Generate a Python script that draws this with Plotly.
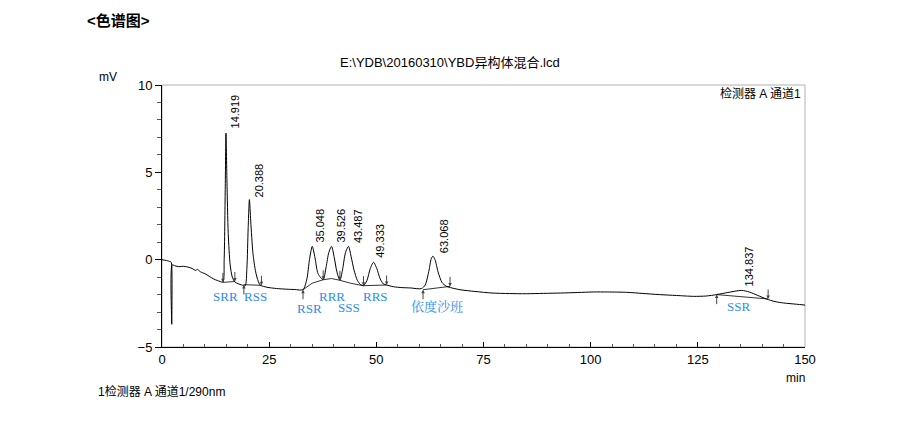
import plotly.graph_objects as go

# ---- data ----
time_min = [0.0, 1.0, 2.0, 2.2, 2.28, 2.36, 3.0, 4.0, 5.0, 6.0, 7.0, 7.9, 8.2, 9.0, 10.0, 11.0, 12.0, 13.0,
            14.2, 14.5, 14.75, 14.92, 15.15, 15.45, 15.9, 16.4, 17.0,
            17.8, 18.6, 19.4, 19.8, 20.1, 20.39, 20.7, 21.2, 21.7, 22.2, 22.9,
            24.5, 26.7, 29.0, 31.0, 32.9,
            33.8, 34.4, 35.05, 35.7, 36.4, 37.6,
            38.3, 38.9, 39.55, 40.2, 40.8, 41.5,
            42.1, 42.8, 43.5, 44.1, 44.8, 45.6, 46.3, 47.0,
            47.8, 48.6, 49.35, 50.1, 50.9, 51.6, 52.4,
            54.0, 56.0, 58.0, 60.5, 61.4, 62.3, 62.8, 63.2, 63.7, 64.4, 65.3, 66.3, 67.3,
            69.5, 73.0, 77.0, 81.0, 85.0, 89.0, 93.0, 97.0, 100.6, 104.0, 108.4, 112.0, 116.0,
            120.0, 124.0, 127.0, 129.4, 132.0, 135.2, 137.0, 139.0, 141.0, 143.0, 145.0, 148.0, 150.0]
signal_mv = [0.0, -0.05, -0.12, -0.18, -3.7, -0.3, -0.35, -0.4, -0.38, -0.42, -0.5, -0.62, -0.55, -0.7, -0.8, -0.95, -1.1, -1.2,
             -1.28, 0.0, 4.0, 7.25, 4.5, 1.5, -0.3, -1.0, -1.28,
             -1.38, -1.45, -1.5, -0.5, 1.8, 3.44, 2.2, 0.4, -0.5, -1.05, -1.45,
             -1.58, -1.65, -1.69, -1.71, -1.72,
             -1.1, 0.0, 0.76, 0.1, -0.8, -1.15,
             -0.4, 0.4, 0.76, 0.1, -0.7, -1.18,
             -0.6, 0.4, 0.76, 0.2, -0.6, -1.2, -1.42, -1.49,
             -1.2, -0.5, -0.15, -0.5, -1.1, -1.38, -1.45,
             -1.55, -1.6, -1.62, -1.66, -1.45, -0.6, 0.05, 0.2, 0.0, -0.7, -1.3, -1.52, -1.6,
             -1.72, -1.82, -1.91, -1.94, -1.95, -1.93, -1.91, -1.88, -1.85, -1.85, -1.87, -1.93, -2.0,
             -2.05, -2.1, -2.08, -2.0, -1.88, -1.76, -1.85, -2.05, -2.25, -2.4, -2.48, -2.55, -2.6]

# integration baselines (start/valley/end points)
base_segments = [
    ([14.2, 17.0], [-1.3, -1.25]),
    ([19.0, 23.2], [-1.43, -1.47]),
    ([32.9, 35.0, 37.6, 39.5, 41.5, 44.0, 47.0], [-1.72, -1.35, -1.15, -1.08, -1.18, -1.35, -1.49]),
    ([47.0, 52.4], [-1.49, -1.45]),
    ([60.9, 67.2], [-1.72, -1.53]),
    ([129.4, 141.4], [-2.0, -2.25]),
]
# arrow marks: (time, value, direction)
mark_t = [14.2, 17.0, 19.1, 23.2, 32.9, 37.6, 41.5, 47.0, 52.4, 60.9, 67.2, 129.4, 141.4]
mark_v = [-1.3, -1.25, -1.45, -1.47, -1.72, -1.15, -1.18, -1.49, -1.45, -1.72, -1.53, -2.0, -2.25]
mark_dir = ["down", "down", "up", "down", "up", "down", "down", "down", "down", "up", "down", "up", "down"]

# retention-time labels
rt_labels = ["14.919", "20.388", "35.048", "39.526", "43.487", "49.333", "63.068", "134.837"]
rt_x = [17.0, 22.6, 36.85, 41.75, 45.6, 51.0, 65.8, 137.0]
rt_y = [8.48, 4.53, 1.95, 1.95, 1.95, 1.06, 1.35, -0.37]

# compound names
name_labels = ["SRR", "RSS", "RSR", "RRR", "SSS", "RRS", "依度沙班", "SSR"]
name_x = [14.7, 21.9, 34.5, 39.7, 43.6, 49.9, 64.1, 134.6]
name_y = [-2.12, -2.12, -2.81, -2.12, -2.75, -2.12, -2.69, -2.69]

x_ticks = [0, 25, 50, 75, 100, 125, 150]
y_ticks = [-5, 0, 5, 10]

SANS = "Liberation Sans, Arial, Noto Sans CJK SC, sans-serif"
SERIF = "Liberation Serif, Times New Roman, Noto Serif CJK SC, Noto Sans CJK SC, serif"

fig = go.Figure()
for bx, by in base_segments:
    fig.add_trace(go.Scatter(x=bx, y=by, mode="lines", line=dict(color="#333333", width=1),
                             hoverinfo="skip", showlegend=False))
fig.add_trace(go.Scatter(x=time_min, y=signal_mv, mode="lines",
                         line=dict(color="black", width=1, shape="spline", smoothing=0.7),
                         showlegend=False))

ann = []
for t, v, d in zip(mark_t, mark_v, mark_dir):
    ann.append(dict(x=t, y=v, xref="x", yref="y", text="", showarrow=True,
                    arrowhead=2, arrowsize=0.7, arrowwidth=1, arrowcolor="#444444",
                    ax=0, ay=-11 if d == "down" else 11))
for s, x, y in zip(rt_labels, rt_x, rt_y):
    ann.append(dict(x=x, y=y, xref="x", yref="y", text=s, showarrow=False, textangle=-90,
                    font=dict(family=SANS, size=11, color="black"), xanchor="center", yanchor="middle"))
for s, x, y in zip(name_labels, name_x, name_y):
    ann.append(dict(x=x, y=y, xref="x", yref="y", text=s, showarrow=False,
                    font=dict(family=SERIF, size=13, color="#2b8cf0"), xanchor="center", yanchor="middle"))

# page body adds an 8px offset; figure coordinates = screen pixels - 8
OFF = 8
W, H = 899 - 2 * OFF, 436 - 2 * OFF
L, T = 162 - OFF, 85 - OFF
PW, PH = 643, 262
R, B = W - L - PW, H - T - PH
def px(xp):
    return (xp - OFF - L) / PW
def py(yp):
    return 1 - (yp - OFF - T) / PH

page_text = [
    (85, 20, "<b>&lt;色谱图&gt;</b>", 15, "left"),
    (450, 62, "E:\\YDB\\20160310\\YBD异构体混合.lcd", 13, "center"),
    (108, 77, "mV", 12, "center"),
    (803, 93, "检测器 A 通道1", 12, "right"),
    (795, 378, "min", 12, "center"),
    (96, 391, "1检测器 A 通道1/290nm", 12, "left"),
]
for xp, yp, s, fs, xa in page_text:
    ann.append(dict(x=px(xp), y=py(yp), xref="paper", yref="paper", text=s, showarrow=False,
                    font=dict(family=SANS, size=fs, color="black"), xanchor=xa, yanchor="middle"))

fig.update_layout(
    width=W, height=H, autosize=False,
    margin=dict(l=L, r=R, t=T, b=B, pad=0),
    paper_bgcolor="white", plot_bgcolor="white",
    annotations=ann,
    shapes=[dict(type="rect", xref="paper", yref="paper", x0=0, x1=1, y0=0, y1=1,
                 line=dict(color="#b0b0b0", width=1), layer="below")],
    xaxis=dict(range=[0, 150], tickvals=x_ticks, ticks="inside", ticklen=5, tickcolor="black",
               minor=dict(dtick=5, ticks="inside", ticklen=3, tickcolor="#555555"),
               showline=True, linecolor="black", linewidth=1, showgrid=False, zeroline=False,
               tickfont=dict(family=SANS, size=13, color="black")),
    yaxis=dict(range=[-5, 10], tickvals=y_ticks, ticks="outside", ticklen=6, tickcolor="black",
               minor=dict(dtick=1, ticks="outside", ticklen=4, tickcolor="#555555"),
               showline=True, linecolor="black", linewidth=1, showgrid=False, zeroline=False,
               tickfont=dict(family=SANS, size=13, color="black")),
)
fig.write_html("out.html")
